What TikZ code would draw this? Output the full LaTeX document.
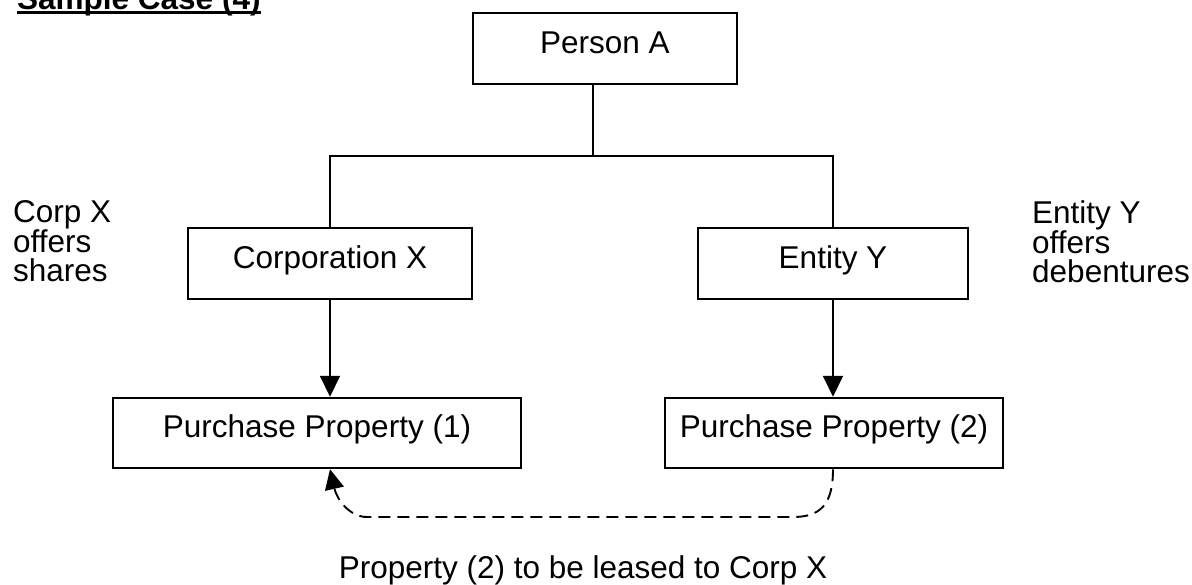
\documentclass[tikz,border=0pt]{standalone}
\usepackage{fontspec}
\setmainfont{Liberation Sans}
\usetikzlibrary{arrows.meta}
\begin{document}
\begin{tikzpicture}[x=1pt,y=-1pt,
  every node/.style={font=\fontsize{31.5}{28.8}\selectfont},
  box/.style={draw,line width=2pt,inner ysep=0pt,text height=40pt,text depth=30.5pt},
  link/.style={line width=2pt},
  flow/.style={line width=2pt,-{Triangle[length=21pt,width=20pt]}},
  lease/.style={line width=1.9pt,dash pattern=on 12pt off 7pt,-{Triangle[length=20pt,width=19pt]}},
  note/.style={align=left,inner sep=0pt,anchor=north west}]
\useasboundingbox (0,0) rectangle (1192,584);

% heading
\node[inner sep=0pt,anchor=base west,font=\fontsize{31.5}{28.8}\selectfont\bfseries] (title) at (17,9) {Sample Case (4)};
\draw[line width=3pt] ([yshift=-3.5pt]title.base west) -- ([yshift=-3.5pt]title.base east);

% boxes
\node[box,minimum width=264pt] (pA)  at (605,48.5) {Person A};
\node[box,minimum width=284pt] (cX)  at (330,263.5) {Corporation X};
\node[box,minimum width=270pt] (eY)  at (833,263.5) {Entity Y};
\node[box,minimum width=408pt] (pp1) at (317,433) {Purchase Property (1)};
\node[box,minimum width=338pt] (pp2) at (834,433) {Purchase Property (2)};

% ownership branches
\coordinate (j) at (593,156);
\draw[link] (pA.south -| j) -- (j);
\draw[link] (cX.north) |- (j) -| (eY.north);

% purchases
\draw[flow] (cX.south) -- (cX.south |- pp1.north);
\draw[flow] (eY.south) -- (eY.south |- pp2.north);

% lease from property (2) to Corp X
\coordinate (lr) at (793,517);
\coordinate (ll) at (367,517);
\draw[lease] (pp2.south -| eY) .. controls (833,505) and (820,517) .. (lr) -- (ll)
  .. controls (350,517) and (337,500) .. (pp1.south -| cX);

% side notes
\node[note] (nX) at (13,200) {Corp X\\offers\\shares};
\node[note] (nY) at (1032,200) {Entity Y\\offers\\debentures};
\node[inner sep=0pt,anchor=base] (lab) at (583,578) {Property (2) to be leased to Corp X};
\end{tikzpicture}
\end{document}
